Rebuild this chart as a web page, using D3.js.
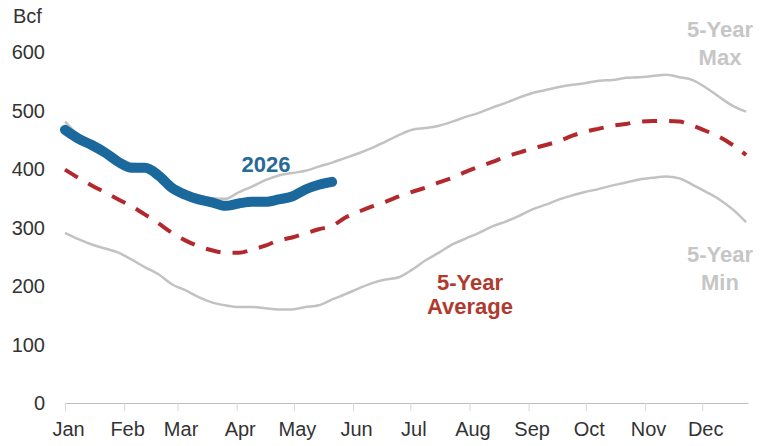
<!DOCTYPE html>
<html>
<head>
<meta charset="utf-8">
<script src="https://cdn.jsdelivr.net/npm/d3@7"></script>
<style>
  html, body { margin: 0; padding: 0; background: #fff; }
  svg { display: block; font-family: "Liberation Sans", Arial, sans-serif; }
</style>
</head>
<body>
<svg id="chart" width="761" height="446"></svg>
<script>
// ---- data (Bcf), weekly points starting Jan 1 ----
const monthLabels = ["Jan","Feb","Mar","Apr","May","Jun","Jul","Aug","Sep","Oct","Nov","Dec"];
const monthStartDay = [0,31,59,90,120,151,181,212,243,273,304,334];
const yTicks = [0,100,200,300,400,500,600];

const max5 = [481,459,448,435,419,409,407,396,375,363,355,350,349,360,370,381,389,393,397,404,411,
  419,427,436,447,458,467,470,474,481,489,496,505,513,522,530,535,540,544,547,551,552,556,557,559,561,557,552,539,523,508,498];
const avg5 = [399,385,372,360,348,336,322,307,291,278,268,261,257,257,262,269,278,283,290,297,303,
  317,327,336,344,353,361,368,377,385,395,404,412,421,428,435,441,448,457,464,469,474,477,481,482,482,481,474,465,455,441,424];
const min5 = [291,280,271,264,257,245,232,220,203,193,181,172,167,164,164,162,160,160,164,167,177,
  186,196,205,211,215,228,244,257,271,281,291,302,310,320,331,339,348,355,361,366,372,377,382,385,387,384,373,361,348,331,309];
const y2026 = [467,452,441,428,412,402,402,389,368,356,348,343,337,341,344,344,348,353,365,373,378];

// ---- layout ----
const svg = d3.select("#chart");
const x = d3.scaleLinear().domain([0, 358]).range([65, 748]);
const y = d3.scaleLinear().domain([0, 600]).range([403, 52]);
const font = '"Liberation Sans", Arial, sans-serif';

const toPts = arr => arr.map((v, i) => [i * 7, v]);
const line = d3.line().x(d => x(d[0])).y(d => y(d[1])).curve(d3.curveMonotoneX);

// x axis
const xAxis = d3.axisBottom(x)
  .tickValues(monthStartDay)
  .tickFormat((d, i) => monthLabels[i])
  .tickSizeInner(8)
  .tickSizeOuter(0);
const gx = svg.append("g").attr("transform", "translate(0,403)").call(xAxis);
gx.select(".domain").attr("stroke", "#bdbdbd").attr("stroke-width", 1.2);
gx.selectAll(".tick line").attr("stroke", "#d6d6d6");
gx.selectAll(".tick text")
  .attr("y", 33).attr("dy", 0).attr("dx", 3)
  .attr("fill", "#333").style("font-size", "20px").style("font-family", font);

// y labels (no axis line)
svg.append("g").selectAll("text").data(yTicks).join("text")
  .attr("x", 45).attr("y", d => y(d)).attr("dy", "0.35em")
  .attr("text-anchor", "end").attr("fill", "#333")
  .style("font-size", "20px").text(d => d);

svg.append("text").attr("x", 13).attr("y", 23).attr("fill", "#333")
  .style("font-size", "20px").text("Bcf");

// lines
svg.append("path").datum(toPts(max5)).attr("d", line)
  .attr("fill", "none").attr("stroke", "#c2c2c2").attr("stroke-width", 2.5);
svg.append("path").datum(toPts(min5)).attr("d", line)
  .attr("fill", "none").attr("stroke", "#c2c2c2").attr("stroke-width", 2.5);
svg.append("path").datum(toPts(avg5)).attr("d", line)
  .attr("fill", "none").attr("stroke", "#b3282d").attr("stroke-width", 4)
  .attr("stroke-dasharray", "15,12");
svg.append("path").datum(toPts(y2026)).attr("d", line)
  .attr("fill", "none").attr("stroke", "#1b689c").attr("stroke-width", 10)
  .attr("stroke-linecap", "round").attr("stroke-linejoin", "round");

// annotations
function label(lines, cx, baselines, color) {
  lines.forEach((t, i) => {
    svg.append("text").attr("x", cx).attr("y", baselines[i])
      .attr("text-anchor", "middle").attr("fill", color)
      .style("font-size", "22px").style("font-weight", "bold").text(t);
  });
}
label(["2026"], 266, [172], "#266a97");
label(["5-Year", "Average"], 470, [290, 314], "#b03a2e");
label(["5-Year", "Max"], 720, [37, 65], "#c6c6c6");
label(["5-Year", "Min"], 720, [262, 290], "#c6c6c6");
</script>
</body>
</html>
